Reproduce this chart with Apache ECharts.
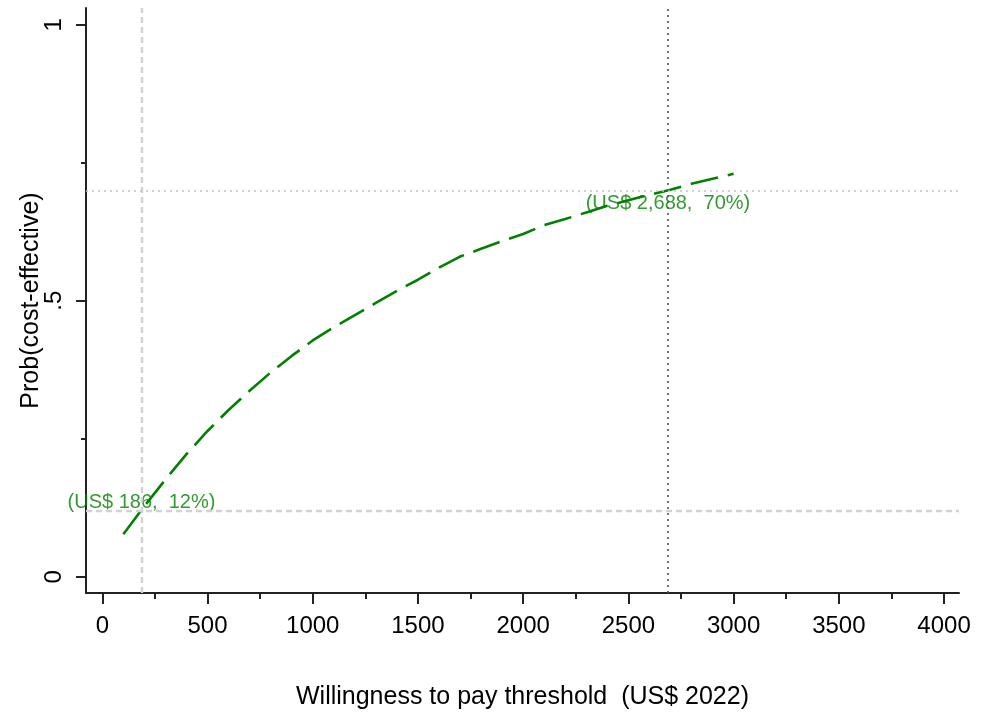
<!DOCTYPE html>
<html>
<head>
<meta charset="utf-8">
<script src="https://cdn.jsdelivr.net/npm/echarts@6/dist/echarts.min.js"></script>
<style>
html,body{margin:0;padding:0;background:#fff;}
#chart{width:985px;height:715px;}
</style>
</head>
<body>
<div id="chart"></div>
<script>
// ---- data ----
var wtp = [100,200,300,400,500,600,700,800,900,1000,1100,1200,1300,1400,1500,1600,1700,1800,1900,2000,2100,2200,2300,2400,2500,2600,2700,2800,2900,3000];
var probCE = [0.077,0.128,0.176,0.222,0.264,0.302,0.337,0.370,0.400,0.428,0.452,0.474,0.496,0.518,0.538,0.560,0.580,0.594,0.608,0.621,0.637,0.648,0.660,0.672,0.682,0.692,0.701,0.712,0.721,0.730];
var lowPoint = [186, 0.12];
var lowLabel = '(US$ 186,  12%)';
var highPoint = [2688, 0.70];
var highLabel = '(US$ 2,688,  70%)';
var xTickValues = [0,500,1000,1500,2000,2500,3000,3500,4000];
var xMinorTicks = [250,750,1250,1750,2250,2750,3250,3750];
var yTickValues = [0,0.5,1];
var yTickLabels = ['0','.5','1'];
var yMinorTicks = [0.25,0.75];
var xTitle = 'Willingness to pay threshold  (US$ 2022)';
var yTitle = 'Prob(cost-effective)';

var FONT = '"Liberation Sans", Arial, sans-serif';
var GREEN = '#008200';
var AXIS = '#222';
var XMIN = -77.5, XMAX = 4071, YMIN = -0.0295, YMAX = 1.0303;

var chart = echarts.init(document.getElementById('chart'), null, {renderer:'canvas'});
var seriesData = wtp.map(function(x,i){return [x, probCE[i]];});

chart.setOption({
  animation:false,
  backgroundColor:'#fff',
  grid:{left:86,right:26,top:8,bottom:122,containLabel:false},
  xAxis:[{
    type:'value', min:XMIN, max:XMAX, position:'bottom',
    axisLine:{show:true,onZero:false,lineStyle:{color:AXIS,width:2}},
    axisTick:{show:true,length:11,lineStyle:{color:AXIS,width:2},customValues:xTickValues},
    axisLabel:{show:true,customValues:xTickValues,margin:21,fontSize:24,color:'#000',fontFamily:FONT,
      formatter:function(v){return String(v);}},
    splitLine:{show:false},
    name:xTitle, nameLocation:'middle', nameGap:92, nameMoveOverlap:false,
    nameTextStyle:{fontSize:25,color:'#000',fontFamily:FONT}
  },{
    type:'value', min:XMIN, max:XMAX, position:'bottom',
    axisLine:{show:false,onZero:false},
    axisTick:{show:true,length:6,lineStyle:{color:AXIS,width:2},customValues:xMinorTicks},
    axisLabel:{show:false},
    splitLine:{show:false}
  }],
  yAxis:[{
    type:'value', min:YMIN, max:YMAX, position:'left',
    axisLine:{show:true,onZero:false,lineStyle:{color:AXIS,width:2}},
    axisTick:{show:true,length:10,lineStyle:{color:AXIS,width:2},customValues:yTickValues},
    axisLabel:{show:true,customValues:yTickValues,rotate:90,margin:20,fontSize:24,color:'#000',fontFamily:FONT,
      formatter:function(v){var i=yTickValues.indexOf(v);return i>=0?yTickLabels[i]:'';}},
    splitLine:{show:false},
    name:yTitle, nameLocation:'middle', nameGap:42, nameMoveOverlap:false,
    nameTextStyle:{fontSize:25,color:'#000',fontFamily:FONT}
  },{
    type:'value', min:YMIN, max:YMAX, position:'left',
    axisLine:{show:false,onZero:false},
    axisTick:{show:true,length:5,lineStyle:{color:AXIS,width:2},customValues:yMinorTicks},
    axisLabel:{show:false},
    splitLine:{show:false}
  }],
  series:[{
    type:'line', data:seriesData, showSymbol:false, symbol:'none',
    lineStyle:{color:GREEN,width:2.6,type:[28,10]},
    markLine:{
      silent:true, symbol:['none','none'], label:{show:false},
      data:[
        {xAxis:lowPoint[0], lineStyle:{color:'#d2d2d2',width:2.4,type:[6,4]}},
        {yAxis:lowPoint[1], lineStyle:{color:'#d2d2d2',width:2.4,type:[6,4]}},
        {xAxis:highPoint[0], lineStyle:{color:'#555',width:1.6,type:[2,4]}},
        {yAxis:highPoint[1], lineStyle:{color:'#c4c4c4',width:1.6,type:[2,4]}}
      ]
    },
    z:3
  },{
    type:'scatter', symbolSize:0, silent:true,
    data:[
      {value:lowPoint, label:{show:true,position:'inside',offset:[0,-8],formatter:lowLabel}},
      {value:highPoint, label:{show:true,position:'inside',offset:[0,13],formatter:highLabel}}
    ],
    label:{color:GREEN,fontSize:20,fontFamily:FONT},
    z:4
  }]
});
</script>
</body>
</html>
